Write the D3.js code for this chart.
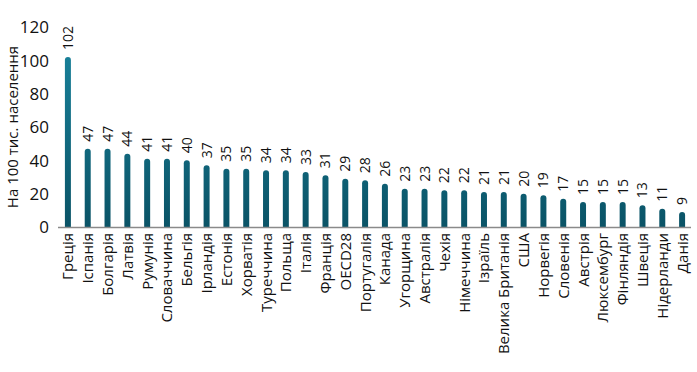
<!DOCTYPE html>
<html><head><meta charset="utf-8">
<script src="https://cdn.jsdelivr.net/npm/d3@7"></script>
<style>body{margin:0;background:#fff}svg{display:block;font-family:"Open Sans",sans-serif}</style>
</head><body><svg id="c" width="697" height="372"></svg>
<script>
const categories = ["Греція","Іспанія","Болгарія","Латвія","Румунія","Словаччина","Бельгія","Ірландія","Естонія","Хорватія","Туреччина","Польща","Італія","Франція","OECD28","Португалія","Канада","Угорщина","Австралія","Чехія","Німеччина","Ізраїль","Велика Британія","США","Норвегія","Словенія","Австрія","Люксембург","Фінляндія","Швеція","Нідерланди","Данія"];
const values = [102,47,47,44,41,41,40,37,35,35,34,34,33,31,29,28,26,23,23,22,22,21,21,20,19,17,15,15,15,13,11,9];
const yTicks = [0,20,40,60,80,100,120];
const yTitle = "На 100 тис. населення";

const svg = d3.select("#c");
const defs = svg.append("defs");
const g = defs.append("linearGradient").attr("id","bg").attr("x1",0).attr("x2",0).attr("gradientUnits","userSpaceOnUse")
  .attr("y1",27).attr("y2",227);
g.append("stop").attr("offset","0%").attr("stop-color","#1a86a0");
g.append("stop").attr("offset","100%").attr("stop-color","#0a5366");

const x = d3.scaleBand().domain(categories).range([58,692]).paddingInner(0.7).paddingOuter(0.35);
const y = d3.scaleLinear().domain([0,120]).range([227,27]);

const ya = svg.append("g").attr("transform","translate(49,0)")
  .call(d3.axisLeft(y).tickValues(yTicks).tickSize(0).tickPadding(0));
ya.select(".domain").remove();
ya.selectAll("text").attr("font-size",17).attr("fill","#111").attr("font-family","Open Sans").attr("dy","0.35em");

svg.append("text").attr("transform","translate(18,127) rotate(-90)").attr("text-anchor","middle")
  .attr("font-size",15).attr("fill","#111").text(yTitle);

const bw = 6;
svg.append("g").selectAll("path").data(values).join("path")
  .attr("fill","url(#bg)")
  .attr("d",(d,i)=>{
    const cx = x(categories[i]) + x.bandwidth()/2;
    const x0 = cx-bw/2, yt = y(d), yb = y(0), r = bw/2;
    return `M${x0},${yb}V${yt+r}A${r},${r} 0 0 1 ${x0+bw},${yt+r}V${yb}Z`;
  });

svg.append("line").attr("x1",58).attr("x2",691).attr("y1",227.5).attr("y2",227.5).attr("stroke","#8a8a8a").attr("stroke-width",1.3);

svg.append("g").selectAll("text").data(values).join("text")
  .attr("transform",(d,i)=>`translate(${x(categories[i])+x.bandwidth()/2+5},${y(d)-7}) rotate(-90)`)
  .attr("font-size",14).attr("fill","#111").attr("text-anchor","start").text(d=>d);

svg.append("g").selectAll("text").data(categories).join("text")
  .attr("transform",c=>`translate(${x(c)+x.bandwidth()/2+5.5},233) rotate(-90)`)
  .attr("font-size",15).attr("fill","#111").attr("text-anchor","end").text(c=>c);
</script></body></html>
